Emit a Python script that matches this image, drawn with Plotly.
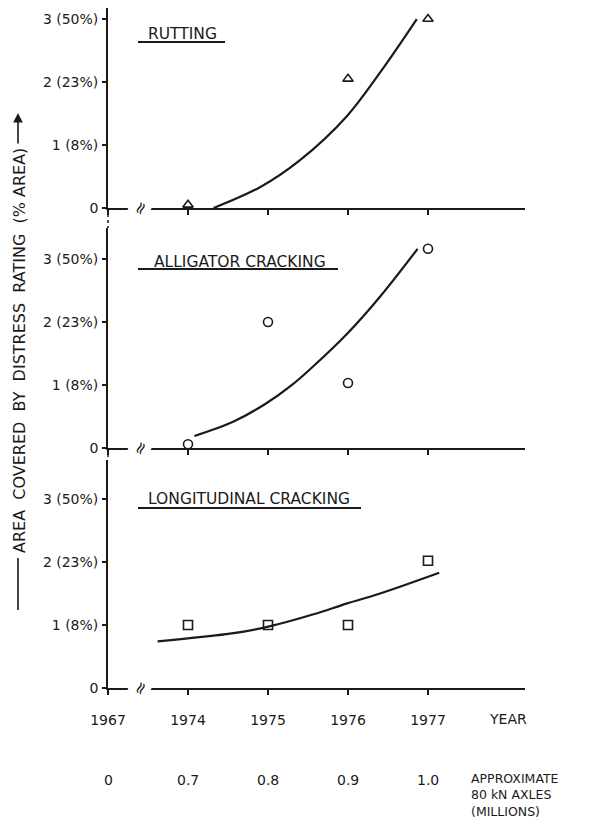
import plotly.graph_objects as go

W, H = 590, 824
OFF = 8  # page body margin offset of the rendered figure

# ---- data ----
year_labels = ["1967", "1974", "1975", "1976", "1977"]
year_pos = [0, 1, 2, 3, 4]
axle_labels = ["0", "0.7", "0.8", "0.9", "1.0"]
ytick_vals = [0, 1, 2, 3]
ytick_text = ["0", "1 (8%)", "2 (23%)", "3 (50%)"]

# observed points (x = year position index, y = distress rating)
rut_x = [1, 3, 4]
rut_y = [0.05, 2.05, 3.0]
all_x = [1, 2, 3, 4]
all_y = [0.06, 2.0, 1.03, 3.16]
lon_x = [1, 2, 3, 4]
lon_y = [1.0, 1.0, 1.0, 2.02]

# fitted curves
rut_cx = [1.32, 1.9, 2.4, 2.98, 3.4, 3.86]
rut_cy = [0.0, 0.33, 0.76, 1.45, 2.15, 3.0]
all_cx = [1.08, 1.57, 1.98, 2.3, 2.57, 2.98, 3.4, 3.87]
all_cy = [0.19, 0.42, 0.71, 1.0, 1.3, 1.8, 2.4, 3.16]
lon_cx = [0.62, 1.57, 1.99, 2.57, 2.98, 3.4, 4.14]
lon_cy = [0.74, 0.87, 0.97, 1.17, 1.34, 1.5, 1.83]

titles = ["RUTTING", "ALLIGATOR CRACKING", "LONGITUDINAL CRACKING"]

FONT = "DejaVu Sans"
BLACK = "#1a1a1a"

def py(p):
    return 1 - (p - OFF) / H

def px(p):
    return (p - OFF) / W

# panel geometry (pixels): zero line y, top y, range top
panels = [
    dict(zero=208, top=8, rng=3.175),
    dict(zero=448, top=228, rng=3.49),
    dict(zero=688, top=460, rng=3.62),
]
title_pix = [(182, 34, 42, 138, 225), (240, 262, 269, 138, 338), (249, 499, 508, 138, 361)]
XL, XR = 108, 525
XRANGE = [0, (XR - XL) / 80.0]

fig = go.Figure()

series = [
    (rut_x, rut_y, rut_cx, rut_cy, "triangle-up-open"),
    (all_x, all_y, all_cx, all_cy, "circle-open"),
    (lon_x, lon_y, lon_cx, lon_cy, "square-open"),
]

for i, (sx, sy, cx, cy, sym) in enumerate(series):
    xa = "x" if i == 0 else f"x{i+1}"
    ya = "y" if i == 0 else f"y{i+1}"
    fig.add_trace(go.Scatter(x=cx, y=cy, mode="lines", xaxis=xa, yaxis=ya,
                             line=dict(color=BLACK, width=2.2, shape="spline", smoothing=1.0),
                             showlegend=False, hoverinfo="skip", cliponaxis=False))
    fig.add_trace(go.Scatter(x=sx, y=sy, mode="markers", xaxis=xa, yaxis=ya,
                             marker=dict(symbol=sym, size=9, color=BLACK, line=dict(width=1.6, color=BLACK)),
                             showlegend=False, cliponaxis=False))

layout = dict(
    width=W, height=H, margin=dict(l=0, r=0, t=0, b=0, pad=0, autoexpand=False),
    paper_bgcolor="white", plot_bgcolor="white",
    font=dict(family=FONT, color=BLACK, size=13),
    showlegend=False,
)

annotations = []
shapes = []
for i, p in enumerate(panels):
    sfx = "" if i == 0 else str(i + 1)
    dom_y = [py(p["zero"]), py(p["top"])]
    layout["xaxis" + sfx] = dict(
        domain=[px(XL), px(XR)], range=XRANGE, anchor="y" + sfx,
        showline=True, linecolor=BLACK, linewidth=1.8,
        ticks="outside", ticklen=5, tickwidth=1.5, tickcolor=BLACK,
        tickvals=year_pos, ticktext=year_labels if i == 2 else [""] * 5,
        showticklabels=(i == 2), showgrid=False, zeroline=False,
        tickfont=dict(size=14, family=FONT, color=BLACK),
        ticklabelstandoff=13, automargin=False,
        fixedrange=True,
    )
    layout["yaxis" + sfx] = dict(
        domain=dom_y, range=[0, p["rng"]], anchor="x" + sfx,
        showline=True, linecolor=BLACK, linewidth=1.8,
        ticks="outside", ticklen=4, tickwidth=1.5, tickcolor=BLACK,
        tickvals=ytick_vals, ticktext=ytick_text,
        showgrid=False, zeroline=False,
        tickfont=dict(size=14, family=FONT, color=BLACK),
        ticklabelstandoff=1, automargin=False,
        fixedrange=True,
    )
    # panel title with underline
    cx_, ty, uy, ux0, ux1 = title_pix[i]
    annotations.append(dict(text=titles[i], x=px(cx_), y=py(ty), xref="paper", yref="paper",
                            showarrow=False, xanchor="center", yanchor="middle",
                            font=dict(size=15.5, family=FONT, color=BLACK)))
    shapes.append(dict(type="line", xref="paper", yref="paper",
                       x0=px(ux0), x1=px(ux1), y0=py(uy), y1=py(uy),
                       line=dict(color=BLACK, width=1.8)))
    # axis break symbol
    annotations.append(dict(text="≈", x=0.4, y=0, xref="x" + sfx, yref="y" + sfx,
                            showarrow=False, textangle=-65, bgcolor="white",
                            font=dict(size=17, family=FONT, color=BLACK),
                            xanchor="center", yanchor="middle", borderpad=0))

# dotted continuation of the vertical axis between panels
for a, b in [(208, 228), (448, 460)]:
    shapes.append(dict(type="line", xref="paper", yref="paper",
                       x0=px(XL), x1=px(XL), y0=py(a), y1=py(b),
                       line=dict(color=BLACK, width=1.5, dash="dot")))

# YEAR label
annotations.append(dict(text="YEAR", x=5.0, y=py(719), xref="x3", yref="paper",
                        showarrow=False, xanchor="center", yanchor="middle",
                        font=dict(size=14, family=FONT, color=BLACK)))
# axle load row
for pos, lab in zip(year_pos, axle_labels):
    annotations.append(dict(text=lab, x=pos, y=py(780), xref="x3", yref="paper",
                            showarrow=False, xanchor="center", yanchor="middle",
                            font=dict(size=14, family=FONT, color=BLACK)))
annotations.append(dict(text="APPROXIMATE<br>80 kN AXLES<br>(MILLIONS)", x=px(469), y=py(795),
                        xref="paper", yref="paper", showarrow=False, xanchor="left",
                        yanchor="middle", align="left",
                        font=dict(size=12.5, family=FONT, color=BLACK)))
# rotated y-axis title with leader line and arrow
annotations.append(dict(text="AREA  COVERED  BY  DISTRESS  RATING  (% AREA)",
                        x=px(19), y=py(351), xref="paper", yref="paper",
                        showarrow=False, textangle=-90, xanchor="center", yanchor="middle",
                        font=dict(size=16, family=FONT, color=BLACK)))
shapes.append(dict(type="line", xref="paper", yref="paper",
                   x0=px(18), x1=px(18), y0=py(558), y1=py(610),
                   line=dict(color=BLACK, width=1.6)))
annotations.append(dict(x=px(18), y=py(113), ax=0, ay=32, xref="paper", yref="paper",
                        axref="pixel", ayref="pixel", text="", showarrow=True,
                        arrowhead=2, arrowsize=1.2, arrowwidth=1.6, arrowcolor=BLACK))

layout["annotations"] = annotations
layout["shapes"] = shapes
fig.update_layout(**layout)

fig.write_html("out.html")
